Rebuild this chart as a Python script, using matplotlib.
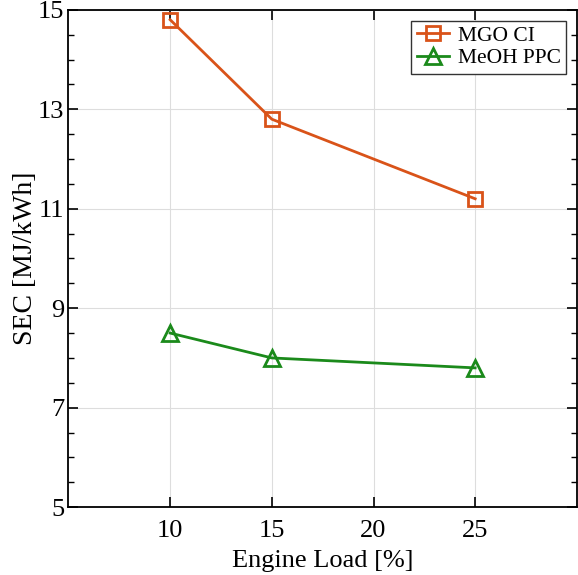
import matplotlib
matplotlib.use('Agg')
import matplotlib.pyplot as plt
from matplotlib.ticker import MultipleLocator

engine_load = [10, 15, 25]
sec_mgo_ci = [14.8, 12.8, 11.2]
sec_meoh_ppc = [8.5, 8.0, 7.8]

plt.rcParams['font.family'] = ['Liberation Serif', 'DejaVu Serif']
plt.rcParams['mathtext.fontset'] = 'stix'

fig = plt.figure(figsize=(5.78, 5.75), dpi=100)
ax = fig.add_axes([0.1185, 0.118, 0.8795, 0.865])

ax.plot(engine_load, sec_mgo_ci, color='#D95319', lw=2, marker='s', ms=10,
        mfc='none', mew=2, label='MGO CI')
ax.plot(engine_load, sec_meoh_ppc, color='#1B8A1B', lw=2, marker='^', ms=11,
        mfc='none', mew=2, label='MeOH PPC')

ax.set_xlim(5, 30)
ax.set_ylim(5, 15)
ax.set_xticks([10, 15, 20, 25])
ax.set_yticks([5, 7, 9, 11, 13, 15])
ax.yaxis.set_minor_locator(MultipleLocator(0.5))
ax.tick_params(which='both', direction='in', top=True, right=True, labelsize=19)
ax.tick_params(axis='x', pad=9)
ax.tick_params(axis='y', pad=3)
ax.tick_params(which='major', length=7, width=1.2)
ax.tick_params(which='minor', length=4, width=1)
ax.grid(True, which='major', color='#dddddd', lw=0.8)
ax.set_axisbelow(True)
for s in ax.spines.values():
    s.set_linewidth(1.3)

ax.set_xlabel('Engine Load [%]', fontsize=19, labelpad=6)
ax.set_ylabel('SEC [MJ/kWh]', fontsize=20, labelpad=0)

leg = ax.legend(loc='upper right', fontsize=15.5, fancybox=False, edgecolor='#333333',
                framealpha=1, handlelength=1.5, borderpad=0.25, labelspacing=0.1,
                handletextpad=0.4, borderaxespad=0.5)
leg.get_frame().set_linewidth(1.0)

fig.savefig('out.png', dpi=100)
